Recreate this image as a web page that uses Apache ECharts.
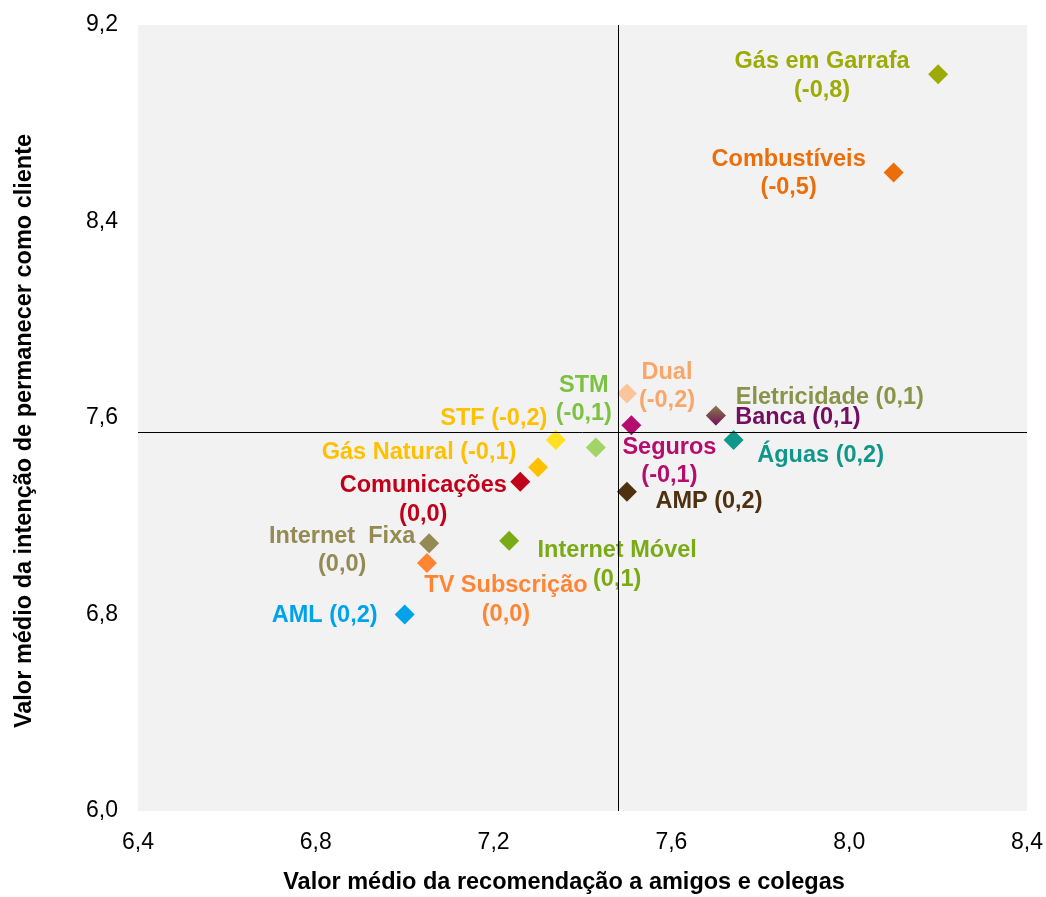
<!DOCTYPE html>
<html>
<head>
<meta charset="utf-8">
<script src="https://cdn.jsdelivr.net/npm/echarts@6/dist/echarts.min.js"></script>
<style>
  html, body { margin: 0; padding: 0; background: #ffffff; }
  #chart { width: 1046px; height: 897px; }
</style>
</head>
<body>
<div id="chart"></div>
<script>
// Sectors: average recommendation (x) vs. average intention to stay (y),
// with the change versus the previous wave shown in brackets.
const sectors = [
  'Gás em Garrafa', 'Combustíveis', 'Dual', 'STM', 'STF', 'Gás Natural',
  'Comunicações', 'AMP', 'Seguros', 'Eletricidade', 'Banca', 'Águas',
  'Internet  Fixa', 'Internet Móvel', 'TV Subscrição', 'AML'
];
const recommendation = [
  8.20, 8.10, 7.50, 7.43, 7.34, 7.30,
  7.26, 7.50, 7.51, 7.70, 7.70, 7.74,
  7.055, 7.235, 7.05, 7.00
];
const retention = [
  9.00, 8.60, 7.70, 7.48, 7.51, 7.40,
  7.34, 7.30, 7.57, 7.61, 7.61, 7.51,
  7.09, 7.10, 7.01, 6.80
];
const change = [
  -0.8, -0.5, -0.2, -0.1, -0.2, -0.1,
  0.0, 0.2, -0.1, 0.1, 0.1, 0.2,
  0.0, 0.1, 0.0, 0.2
];

// Averages across sectors (the crosshair lines)
const meanRecommendation = 7.48;
const meanRetention = 7.54;

const xTicks = [6.4, 6.8, 7.2, 7.6, 8.0, 8.4];
const yTicks = [6.0, 6.8, 7.6, 8.4, 9.2];

// Styling per sector: marker colour, label colour, label placement
const markerColors = [
  '#9CAB05', '#EB6E0A', '#FAC59A', '#A3D468', '#FFE11F', '#FFC000',
  '#C0001A', '#4E3210', '#B40D6E', '#857F47', null, '#11978A',
  '#948A54', '#7AAA14', '#FF8533', '#00A3EA'
];
const labelColors = [
  '#9CAB05', '#EB6E0A', '#F9A66A', '#7BC242', '#FFC000', '#FFC000',
  '#C0001A', '#4E3210', '#B40D6E', '#8A9449', '#730E61', '#11978A',
  '#948A54', '#7AAA14', '#FF8533', '#00A3EA'
];
const labelLayout = [
  { dx: -116, dy: 2,   wrap: true },
  { dx: -105, dy: 1,   wrap: true },
  { dx: 40,   dy: -7,  wrap: true },
  { dx: -12,  dy: -48, wrap: true },
  { dx: -62,  dy: -22, wrap: false },
  { dx: -119, dy: -15, wrap: false },
  { dx: -97,  dy: 18,  wrap: true },
  { dx: 82,   dy: 10,  wrap: false },
  { dx: 38,   dy: 36,  wrap: true },
  { dx: 114,  dy: -18, wrap: false },
  { dx: 82,   dy: 2,   wrap: false },
  { dx: 87,   dy: 15,  wrap: false },
  { dx: -87,  dy: 7,   wrap: true },
  { dx: 108,  dy: 24,  wrap: true },
  { dx: 79,   dy: 37,  wrap: true },
  { dx: -80,  dy: 1,   wrap: false }
];

const FONT = "'Liberation Sans', Arial, Helvetica, sans-serif";
const fmt = v => v.toFixed(1).replace('.', ',');

// Banca sits on top of Eletricidade; its marker fades in from the top
const bancaFill = new echarts.graphic.LinearGradient(0, 0, 0, 1, [
  { offset: 0, color: 'rgba(115,14,97,0)' },
  { offset: 1, color: 'rgba(115,14,97,1)' }
]);

const points = sectors.map((name, i) => {
  const lay = labelLayout[i];
  const text = name + (lay.wrap ? '\n' : ' ') + '(' + fmt(change[i]) + ')';
  return {
    name: name,
    value: [recommendation[i], retention[i]],
    itemStyle: { color: markerColors[i] || bancaFill, opacity: 1 },
    label: {
      show: true,
      position: 'inside',
      offset: [lay.dx, lay.dy],
      align: 'center',
      verticalAlign: 'middle',
      color: labelColors[i],
      opacity: 1,
      fontFamily: FONT,
      fontWeight: 'bold',
      fontSize: 23.5,
      lineHeight: 28.5,
      formatter: text
    }
  };
});

const chart = echarts.init(document.getElementById('chart'), null, { renderer: 'canvas' });

chart.setOption({
  animation: false,
  backgroundColor: '#ffffff',
  grid: {
    left: 138, top: 25, right: 19, bottom: 86,
    show: true,
    backgroundColor: '#F2F2F2',
    borderWidth: 0
  },
  xAxis: {
    type: 'value',
    min: xTicks[0],
    max: xTicks[xTicks.length - 1],
    interval: 0.4,
    axisLine: { show: false },
    axisTick: { show: false },
    splitLine: { show: false },
    axisLabel: {
      margin: 20,
      color: '#000000',
      fontFamily: FONT,
      fontSize: 23,
      formatter: v => fmt(v)
    }
  },
  yAxis: {
    type: 'value',
    min: yTicks[0],
    max: yTicks[yTicks.length - 1],
    interval: 0.8,
    axisLine: { show: false },
    axisTick: { show: false },
    splitLine: { show: false },
    axisLabel: {
      margin: 20,
      color: '#000000',
      fontFamily: FONT,
      fontSize: 23,
      formatter: v => fmt(v)
    }
  },
  graphic: [
    {
      type: 'text',
      x: 564,
      y: 883,
      style: {
        text: 'Valor médio da recomendação a amigos e colegas',
        font: 'bold 23.5px ' + FONT,
        fill: '#000000',
        align: 'center',
        verticalAlign: 'middle'
      },
      silent: true
    },
    {
      type: 'text',
      x: 25,
      y: 431,
      rotation: Math.PI / 2,
      style: {
        text: 'Valor médio da intenção de permanecer como cliente',
        font: 'bold 23.5px ' + FONT,
        fill: '#000000',
        align: 'center',
        verticalAlign: 'middle'
      },
      silent: true
    }
  ],
  series: [
    {
      type: 'scatter',
      symbol: 'diamond',
      symbolSize: 20,
      itemStyle: { opacity: 1 },
      data: points,
      markLine: {
        silent: true,
        symbol: ['none', 'none'],
        label: { show: false },
        lineStyle: { color: '#000000', width: 1, type: 'solid' },
        emphasis: { disabled: true },
        data: [
          { xAxis: meanRecommendation },
          { yAxis: meanRetention }
        ]
      }
    }
  ]
});
</script>
</body>
</html>
